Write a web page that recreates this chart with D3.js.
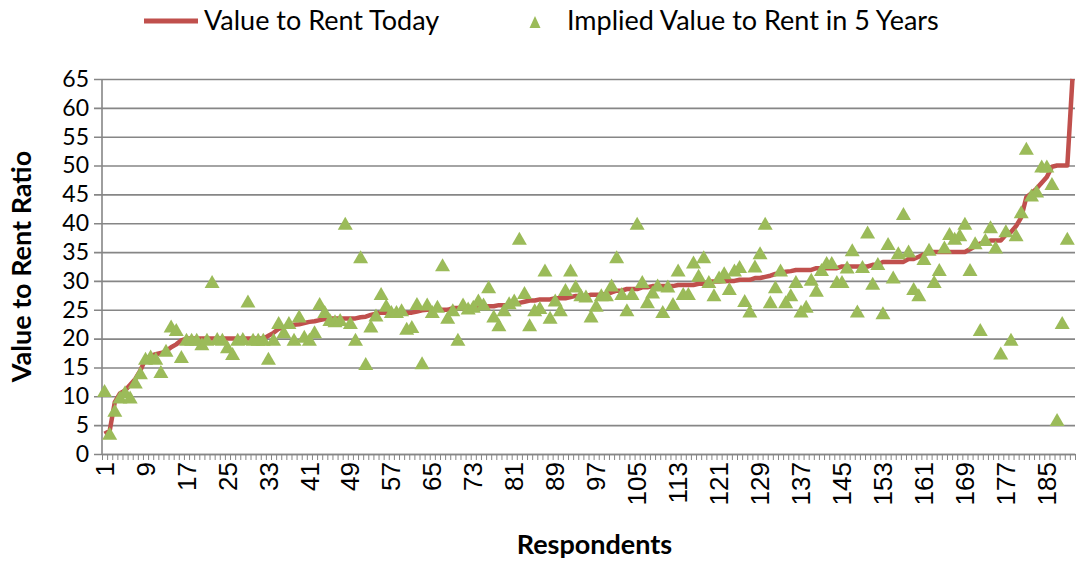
<!DOCTYPE html>
<html>
<head>
<meta charset="utf-8">
<script src="https://cdn.jsdelivr.net/npm/d3@7"></script>
<style>
  html, body { margin: 0; padding: 0; background: #ffffff; }
  svg { display: block; font-family: Lato, "Open Sans", sans-serif; }
</style>
</head>
<body>
<svg id="chart" width="1082" height="561"></svg>
<script>
// ---------------- DATA ----------------
const seriesNames = ["Value to Rent Today", "Implied Value to Rent in 5 Years"];
const yTickValues = [0, 5, 10, 15, 20, 25, 30, 35, 40, 45, 50, 55, 60, 65];
const xLabelStep = 8;

// Value to Rent Today (sorted), respondents 1..190
const valueToday = [
  3.5, 4, 9, 10.5, 11, 12, 13, 14.5, 16.5, 17,
  17.3, 17.5, 17.8, 18.5, 19, 19.7, 20, 20, 20, 20,
  20, 20, 20, 20, 20, 20, 20, 20, 20, 20,
  20, 20, 20.5, 21, 21.7, 22, 22.2, 22.4, 22.5, 22.7,
  22.9, 23, 23.2, 23.4, 23.5, 23.5, 23.5, 23.5, 23.5, 23.5,
  23.7, 23.8, 24.1, 24.3, 24.5, 24.5, 24.5, 24.5, 24.5, 24.5,
  24.5, 24.7, 24.9, 25, 25, 25, 25, 25, 25.3, 25.3,
  25.3, 25.3, 25.6, 25.6, 25.6, 25.6, 25.6, 25.8, 25.8, 25.8,
  26, 26.2, 26.4, 26.6, 26.6, 26.8, 26.8, 26.8, 27, 27,
  27, 27.2, 27.4, 27.4, 27.4, 27.6, 27.6, 27.6, 27.8, 28,
  28.3, 28.3, 28.6, 28.6, 28.6, 28.9, 28.9, 29.1, 29.1, 29.1,
  29.1, 29.1, 29.3, 29.3, 29.3, 29.3, 29.5, 29.5, 29.9, 29.9,
  29.9, 30, 30, 30, 30.2, 30.2, 30.2, 30.5, 30.5, 30.7,
  30.9, 31.2, 31.4, 31.6, 31.7, 31.9, 31.9, 31.9, 31.9, 32.2,
  32.2, 32.2, 32.2, 32.2, 32.5, 32.5, 32.5, 32.5, 32.5, 32.5,
  32.8, 32.8, 33.3, 33.3, 33.3, 33.3, 33.3, 33.8, 33.8, 34.2,
  34.6, 35, 35, 35, 35, 35, 35, 35, 35, 35.5,
  36, 36.5, 36.5, 37, 37, 37, 38, 38.5, 39.5, 41,
  44.5, 45.2, 46, 47, 48, 49.8, 50, 50, 50, 65
];

// Implied Value to Rent in 5 Years, respondents 1..190
const valueIn5Years = [
  11, 3.6, 7.6, 9.9, 10.8, 9.9, 12.5, 14.1, 16.6, 17,
  16.6, 14.3, 18, 22.2, 21.6, 16.9, 19.9, 19.9, 19.9, 19.1,
  19.9, 29.9, 20, 19.9, 18.6, 17.4, 19.9, 20, 26.5, 19.9,
  19.9, 19.9, 16.6, 19.9, 22.8, 21.2, 22.8, 19.9, 23.9, 20.4,
  19.9, 21.2, 26.1, 24.7, 23.3, 23.1, 23.3, 40, 22.8, 19.9,
  34.2, 15.7, 22.2, 24.1, 27.8, 25.8, 24.7, 24.7, 25, 21.8,
  22.1, 26.1, 15.8, 26, 24.7, 25.6, 32.8, 23.7, 25, 19.9,
  26, 25.3, 25.6, 26.7, 26, 29, 23.9, 22.4, 25, 26.2,
  26.7, 37.4, 28, 22.4, 25, 25.4, 31.9, 23.7, 26.7, 25,
  28.5, 31.9, 29.1, 27.6, 27.4, 23.9, 25.8, 27.6, 27.6, 29.3,
  34.2, 27.8, 25, 27.8, 40, 29.9, 26.4, 28.1, 29.3, 24.7,
  29.1, 26.1, 31.9, 27.8, 27.8, 33.3, 31, 34.2, 29.9, 27.6,
  30.7, 31.4, 28.7, 31.9, 32.5, 26.6, 24.8, 32.6, 34.9, 40,
  26.4, 29, 31.9, 26.4, 27.6, 29.9, 24.8, 25.6, 30.3, 28.4,
  32, 33.2, 33.2, 29.9, 29.9, 32.4, 35.4, 24.8, 32.5, 38.5,
  29.6, 33, 24.5, 36.5, 30.7, 34.9, 41.7, 35.2, 28.7, 27.6,
  33.9, 35.5, 29.9, 32, 35.9, 38.2, 37.4, 38, 40, 32,
  36.6, 21.6, 37.2, 39.4, 35.9, 17.5, 38.7, 19.9, 38, 42,
  53, 44.9, 45.6, 49.9, 49.9, 46.9, 6, 22.8, 37.4, null
];

const respondents = valueToday.map((d, i) => i + 1);

// ---------------- LAYOUT ----------------
const plot = { left: 102, right: 1075, top: 79, bottom: 454 };
const gridColor = "#868686";
const lineColor = "#C0504D";
const markColor = "#9BBB59";
const textColor = "#000000";
const yTickFont = "23px";
const xTickFont = "26px";
const titleFont = "27px";
const legendFont = "27px";

const svg = d3.select("#chart");

const x = d3.scaleBand().domain(respondents).range([plot.left, plot.right]).padding(0);
const xIdx = d3.scaleLinear().domain([0, respondents.length]).range([plot.left, plot.right]);
const y = d3.scaleLinear().domain([0, 65]).range([plot.bottom, plot.top]);
const cx = d => x(d) + x.bandwidth() / 2;

// gridlines + y axis ticks
const yAxis = d3.axisLeft(y).tickValues(yTickValues).tickSize(8).tickSizeOuter(0).tickPadding(5);
const gy = svg.append("g").attr("transform", `translate(${plot.left},0)`).call(yAxis);
gy.select(".domain").remove();
gy.selectAll(".tick line").attr("stroke", gridColor).attr("stroke-width", 1.6)
  .attr("x1", -8).attr("x2", plot.right - plot.left);
gy.selectAll(".tick text").attr("fill", textColor).style("font-size", yTickFont)
  .attr("font-family", "Lato, sans-serif");

// x axis: tick marks at every category boundary
const xTicks = d3.axisBottom(xIdx).tickValues(d3.range(0, respondents.length + 1))
  .tickSize(6).tickSizeOuter(0).tickFormat("");
const gx = svg.append("g").attr("transform", `translate(0,${plot.bottom})`).call(xTicks);
gx.select(".domain").attr("stroke", gridColor).attr("stroke-width", 1.6);
gx.selectAll(".tick line").attr("stroke", gridColor).attr("stroke-width", 1);

// x labels every 8th category
const labelCats = respondents.filter(d => (d - 1) % xLabelStep === 0);
const xLab = d3.axisBottom(x).tickValues(labelCats).tickSize(0).tickPadding(0);
const gxl = svg.append("g").attr("transform", `translate(0,${plot.bottom + 8})`).call(xLab);
gxl.select(".domain").remove();
gxl.selectAll(".tick text")
  .attr("transform", "rotate(-90)")
  .attr("text-anchor", "end")
  .attr("x", 0).attr("y", 0).attr("dy", "0.35em")
  .attr("fill", textColor).style("font-size", xTickFont);

// y axis line
svg.append("line")
  .attr("x1", plot.left).attr("x2", plot.left)
  .attr("y1", plot.top).attr("y2", plot.bottom)
  .attr("stroke", gridColor).attr("stroke-width", 1.6);

// clip
svg.append("clipPath").attr("id", "clip").append("rect")
  .attr("x", plot.left).attr("y", plot.top - 2)
  .attr("width", plot.right - plot.left + 6).attr("height", plot.bottom - plot.top + 4);

// red line
const line = d3.line().x((d, i) => cx(respondents[i])).y(d => y(d));
svg.append("path")
  .datum(valueToday)
  .attr("clip-path", "url(#clip)")
  .attr("d", line)
  .attr("fill", "none")
  .attr("stroke", lineColor)
  .attr("stroke-width", 4.5)
  .attr("stroke-linejoin", "round");

// triangles
const triW = 15, triH = 13;
const triPath = (w, h) => `M0,${-h / 2}L${w / 2},${h / 2}L${-w / 2},${h / 2}Z`;
svg.append("g").selectAll("path")
  .data(respondents.map((r, i) => ({ r, v: valueIn5Years[i] })).filter(d => d.v !== null))
  .join("path")
  .attr("transform", d => `translate(${cx(d.r)},${y(d.v)})`)
  .attr("d", triPath(triW, triH))
  .attr("fill", markColor);

// axis titles
svg.append("text")
  .attr("transform", `translate(22,${(plot.top + plot.bottom) / 2}) rotate(-90)`)
  .attr("text-anchor", "middle")
  .attr("dy", "0.35em")
  .style("font-size", titleFont).style("font-weight", "bold")
  .attr("fill", textColor)
  .text("Value to Rent Ratio");

svg.append("text")
  .attr("x", (plot.left + plot.right) / 2 + 6).attr("y", 545)
  .attr("text-anchor", "middle").attr("dy", "0.35em")
  .style("font-size", titleFont).style("font-weight", "bold")
  .attr("fill", textColor)
  .text("Respondents");

// legend
const lg = svg.append("g");
lg.append("line").attr("x1", 144).attr("x2", 198).attr("y1", 21).attr("y2", 21)
  .attr("stroke", lineColor).attr("stroke-width", 5);
lg.append("text").attr("x", 204).attr("y", 21).attr("dy", "0.35em")
  .style("font-size", legendFont).attr("fill", textColor).text(seriesNames[0]);
lg.append("path").attr("transform", "translate(535,22)").attr("d", triPath(11, 12)).attr("fill", markColor);
lg.append("text").attr("x", 567).attr("y", 21).attr("dy", "0.35em")
  .style("font-size", legendFont).attr("fill", textColor).text(seriesNames[1]);
</script>
</body>
</html>
